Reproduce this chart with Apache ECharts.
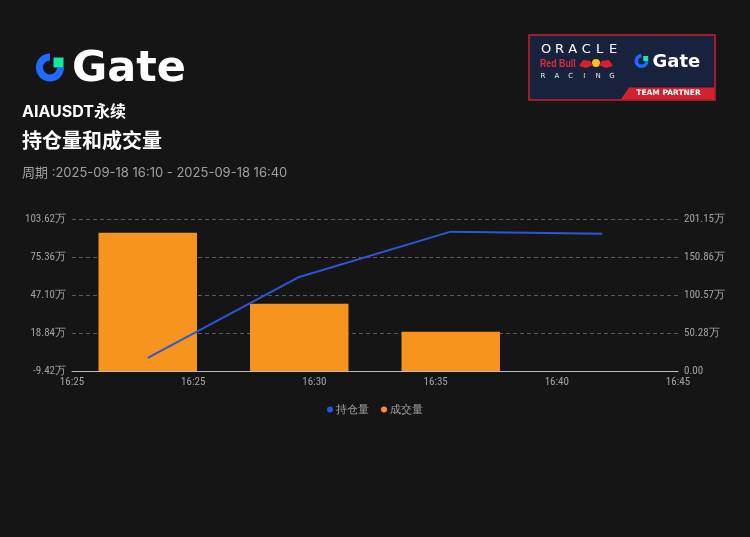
<!DOCTYPE html>
<html>
<head>
<meta charset="utf-8">
<script src="https://cdn.jsdelivr.net/npm/echarts@6/dist/echarts.min.js"></script>
<style>
html,body{margin:0;padding:0;background:#151515;}
#c{width:750px;height:537px;}
</style>
</head>
<body>
<div id="c"></div>
<script>
// ---- data ----
const categories = ['16:25', '16:30', '16:35', '16:40'];
const xTickLabels = ['16:25', '16:25', '16:30', '16:35', '16:40', '16:45'];
const openInterest = [0.3, 60.5, 94.2, 92.6];      // 持仓量 (万)
const volume = [182.86, 89.1, 52.0, null];          // 成交量 (万)
const leftTicks = ['-9.42万', '18.84万', '47.10万', '75.36万', '103.62万'];
const rightTicks = ['0.00', '50.28万', '100.57万', '150.86万', '201.15万'];
const leftMin = -9.42, leftMax = 103.62, leftInterval = 28.26;
const rightMin = 0, rightMax = 201.15, rightInterval = 50.2875;

const chart = echarts.init(document.getElementById('c'), null, {renderer: 'canvas'});

const axisLabelColor = '#a3a3a3';
const cjk = '"Inter","Noto Sans CJK SC",sans-serif';
const axisFont = '"Liberation Sans Narrow","Roboto Condensed","Roboto",sans-serif';

// header graphics
const graphics = [];
// Gate logo icon
graphics.push({type: 'arc', shape: {cx: 50, cy: 67.5, r: 10.5, startAngle: 0, endAngle: Math.PI * 1.5, clockwise: true},
  style: {stroke: '#1f6bff', lineWidth: 7, fill: null, lineCap: 'butt'}});
graphics.push({type: 'rect', shape: {x: 53.5, y: 57.5, width: 10, height: 10}, style: {fill: '#17e6a1'}});
graphics.push({type: 'text', x: 72, y: 70, style: {text: 'Gate', fill: '#ffffff', font: 'bold 43px "DejaVu Sans"', textVerticalAlign: 'middle'}});
// titles
graphics.push({type: 'text', x: 22, y: 112.5, style: {text: 'AIAUSDT永续', fill: '#ffffff', font: 'bold 16px ' + cjk, textVerticalAlign: 'middle'}});
graphics.push({type: 'text', x: 22, y: 142, style: {text: '持仓量和成交量', fill: '#ffffff', font: 'bold 20px ' + cjk, textVerticalAlign: 'middle'}});
graphics.push({type: 'text', x: 22, y: 173.5, style: {text: '周期 :2025-09-18 16:10 - 2025-09-18 16:40', fill: '#a0a0a0', font: '13px ' + cjk, textVerticalAlign: 'middle'}});
// partner badge
graphics.push({type: 'rect', shape: {x: 529, y: 35, width: 186, height: 65}, style: {fill: '#18223d', stroke: '#c8202f', lineWidth: 1.5}});
graphics.push({type: 'polygon', shape: {points: [[621, 99.2], [629, 87.5], [714.2, 87.5], [714.2, 99.2]]}, style: {fill: '#d3212f'}});
graphics.push({type: 'text', x: 668.5, y: 93.5, style: {text: 'TEAM PARTNER', fill: '#ffffff', font: 'bold 7.5px "DejaVu Sans"', textAlign: 'center', textVerticalAlign: 'middle'}});
const oracle = 'ORACLE';
for (let i = 0; i < oracle.length; i++) {
  graphics.push({type: 'text', x: 546 + i * 13.4, y: 49.5, style: {text: oracle[i], fill: '#ffffff', font: '13px "DejaVu Sans"', textAlign: 'center', textVerticalAlign: 'middle'}});
}
const racing = 'RACING';
for (let i = 0; i < racing.length; i++) {
  graphics.push({type: 'text', x: 543 + i * 13.8, y: 76.5, style: {text: racing[i], fill: '#e8e8e8', font: '7px "DejaVu Sans"', textAlign: 'center', textVerticalAlign: 'middle'}});
}
graphics.push({type: 'text', x: 540, y: 63.5, scaleX: 0.8, style: {text: 'Red Bull', fill: '#e0293a', font: 'bold 11px "Liberation Sans",sans-serif', textVerticalAlign: 'middle'}});
graphics.push({type: 'circle', shape: {cx: 596, cy: 63, r: 4}, style: {fill: '#f4c21b'}});
graphics.push({type: 'polygon', shape: {points: [[579, 66], [583, 60], [590, 61], [593, 65], [586, 68]]}, style: {fill: '#d8202f'}});
graphics.push({type: 'polygon', shape: {points: [[613, 66], [609, 60], [602, 61], [599, 65], [606, 68]]}, style: {fill: '#d8202f'}});
graphics.push({type: 'arc', shape: {cx: 641.5, cy: 61, r: 5.2, startAngle: 0, endAngle: Math.PI * 1.5, clockwise: true},
  style: {stroke: '#1f6bff', lineWidth: 3.6, fill: null}});
graphics.push({type: 'rect', shape: {x: 643.2, y: 56, width: 5, height: 5}, style: {fill: '#17e6a1'}});
graphics.push({type: 'text', x: 652.5, y: 62, style: {text: 'Gate', fill: '#ffffff', font: 'bold 18px "DejaVu Sans"', textVerticalAlign: 'middle'}});

chart.setOption({
  backgroundColor: '#151515',
  animation: false,
  graphic: graphics,
  grid: {left: 72, right: 72, top: 219, bottom: 166, containLabel: false},
  legend: {
    data: ['持仓量', '成交量'],
    top: 399, left: 'center',
    icon: 'circle', itemWidth: 6, itemHeight: 6, itemGap: 12,
    textStyle: {color: axisLabelColor, fontSize: 11, padding: [0, 0, 0, -2]}
  },
  xAxis: [
    {type: 'category', data: categories, boundaryGap: true, position: 'bottom',
      axisLine: {show: false}, axisTick: {show: false}, axisLabel: {show: false}, splitLine: {show: false}},
    {type: 'category', data: xTickLabels, boundaryGap: false, position: 'bottom',
      axisLine: {show: true, lineStyle: {color: '#bdbdbd', width: 1}}, axisTick: {show: false},
      axisLabel: {color: axisLabelColor, fontSize: 11, fontFamily: axisFont, margin: 6, interval: 0}, splitLine: {show: false}}
  ],
  yAxis: [
    {type: 'value', min: leftMin, max: leftMax, interval: leftInterval, position: 'left',
      axisLine: {show: false}, axisTick: {show: false},
      axisLabel: {color: axisLabelColor, fontSize: 11, fontFamily: axisFont, margin: 6, formatter: (v, i) => leftTicks[i]},
      splitLine: {show: true, lineStyle: {color: '#5a5a5a', type: [4, 3], width: 1}}},
    {type: 'value', min: rightMin, max: rightMax, interval: rightInterval, position: 'right',
      axisLine: {show: false}, axisTick: {show: false},
      axisLabel: {color: axisLabelColor, fontSize: 11, fontFamily: axisFont, margin: 6, formatter: (v, i) => rightTicks[i]},
      splitLine: {show: false}}
  ],
  series: [
    {name: '持仓量', type: 'line', xAxisIndex: 0, yAxisIndex: 0, data: openInterest, z: 5,
      symbol: 'none', showSymbol: false, itemStyle: {color: '#2b56d8'},
      lineStyle: {color: '#2b56d8', width: 2}},
    {name: '成交量', type: 'bar', xAxisIndex: 0, yAxisIndex: 1, data: volume, barWidth: '65%',
      itemStyle: {color: '#f7941d'}}
  ]
});
</script>
</body>
</html>
